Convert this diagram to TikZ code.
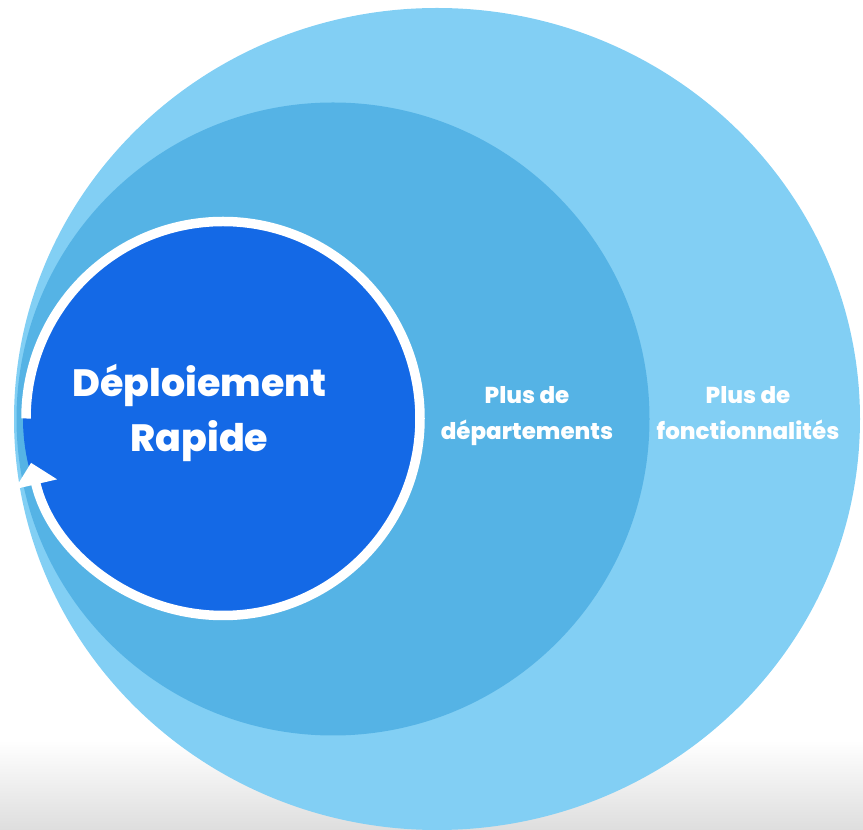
\documentclass[tikz,border=0pt]{standalone}
\usepackage{fontspec}
\setmainfont{Poppins}[BoldFont={* ExtraBold}]
\usetikzlibrary{positioning,shapes.geometric,arrows.meta,calc}
\definecolor{featblue}{HTML}{82CFF4}
\definecolor{deptblue}{HTML}{55B3E5}
\definecolor{fastblue}{HTML}{1469E6}
\begin{document}
\begin{tikzpicture}[x=1pt,y=1pt,
  disc/.style={inner sep=0pt, outer sep=0pt},
  biglabel/.style={text=white, font=\fontsize{38}{55}\selectfont\bfseries, align=center, anchor=base},
  smalllabel/.style={text=white, font=\fontsize{23}{36}\selectfont\bfseries, align=center, anchor=base},
  ring/.style={white, line width=9.5pt, -{Triangle[width=42pt,length=22pt]}}]
\useasboundingbox (0,0) rectangle (863,830);
\shade[top color=white, bottom color=black!13] (0,0) rectangle (863,90);
\node[disc, ellipse, fill=featblue, minimum width=846pt, minimum height=822pt] (feat) at (437,411) {};
\node[disc, circle, fill=deptblue, minimum size=633pt] (dept) at (333,411) {};
\node[disc, circle, fill=fastblue, minimum size=400pt] (fast) at (223,411.5) {};
\draw[ring] ($(fast.center)+(180:197pt)$) arc[start angle=180, end angle=-167, radius=197pt];
\node[biglabel] (fastlbl) at (199.5,378) {Déploiement\\Rapide};
\node[smalllabel] (deptlbl) at (527,390) {Plus de\\départements};
\node[smalllabel] (featlbl) at (748,390) {Plus de\\fonctionnalités};
\end{tikzpicture}
\end{document}
